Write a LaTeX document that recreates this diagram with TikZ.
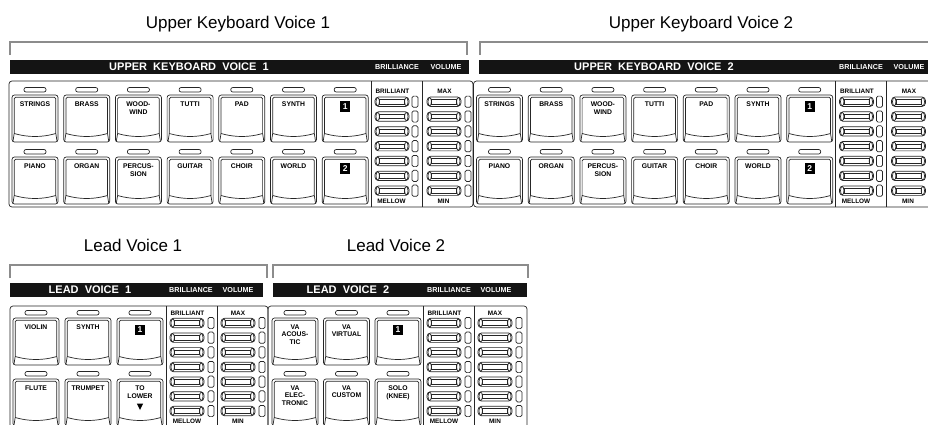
\documentclass[tikz,border=0pt]{standalone}
\usepackage{fontspec}
\setmainfont{Liberation Sans}
\begin{document}
\begin{tikzpicture}[x=1pt,y=-1pt,
  ln/.style={line width=0.7pt, draw=black!85},
  bracketline/.style={draw=black!45, line width=2pt},
  blackbar/.style={fill=black!92, draw=none},
  bartitle/.style={text=white, font=\bfseries\fontsize{11}{11}\selectfont, inner sep=0},
  barsmall/.style={text=white, font=\bfseries\fontsize{7.2}{7.2}\selectfont, inner sep=0},
  ttl/.style={font=\fontsize{17}{17}\selectfont, inner sep=0, anchor=base},
  blabel/.style={font=\bfseries\fontsize{6.8}{7.8}\selectfont, align=center, inner sep=0, anchor=north},
  slabel/.style={font=\bfseries\fontsize{6.4}{6.4}\selectfont, inner sep=0},
  badge/.style={fill=black, text=white, font=\bfseries\fontsize{8.5}{8.5}\selectfont, minimum width=10pt, minimum height=10.5pt, inner sep=0},
  btnshape/.pic={
    \draw[ln, rounded corners=2.5] (0,0) rectangle (46,47);
    \draw[ln, rounded corners=1.5] (2.2,38.5) -- (2.2,2.2) -- (43.8,2.2) -- (43.8,38.5);
    \draw[ln] (2.2,38.5) .. controls (16,42.5) and (30,42.5) .. (43.8,38.5);
    \draw[ln] (2.2,38.5) -- (1,46);
    \draw[ln] (43.8,38.5) -- (45,46);
    \draw[ln, rounded corners=2] (12,-7.5) rectangle (34,-3);
  },
  sliderpic/.pic={
    \draw[ln, fill=white, rounded corners=3.5] (-17,-4.7) rectangle (17,4.7);
    \draw[ln] (-12.5,-2.2) rectangle (12.5,2.2);
    \draw[ln] (-14.3,0) ellipse (1.7 and 4.2);
    \draw[ln] (14.3,0) ellipse (1.7 and 4.2);
  }
]
\useasboundingbox (0,0) rectangle (928,424);
\clip (0,0) rectangle (928,424);
\fill[white] (0,0) rectangle (928,424);

% titles
\node[ttl] (t1) at (238,28) {Upper Keyboard Voice 1};
\node[ttl] (t2) at (701,28) {Upper Keyboard Voice 2};
\node[ttl] (t3) at (133,251) {Lead Voice 1};
\node[ttl] (t4) at (396,251) {Lead Voice 2};

% brackets
\draw[bracketline] (10,55) -- (10,42) -- (467,42) -- (467,55);
\draw[bracketline] (480,55) -- (480,42) -- (940,42);
\draw[bracketline] (10,278) -- (10,265) -- (267,265) -- (267,278);
\draw[bracketline] (273,278) -- (273,265) -- (528,265) -- (528,278);

% black bars
\fill[blackbar] (10,60) rectangle (469,74);
\fill[blackbar] (479,60) rectangle (940,74);
\fill[blackbar] (10,283) rectangle (263,297);
\fill[blackbar] (273,283) rectangle (527,297);
\node[bartitle] (h1) at (189,67) {UPPER\ \ KEYBOARD\ \ VOICE\ \ 1};
\node[bartitle] (h2) at (654,67) {UPPER\ \ KEYBOARD\ \ VOICE\ \ 2};
\node[bartitle] (h3) at (90,290) {LEAD\ \ VOICE\ \ 1};
\node[bartitle] (h4) at (348,290) {LEAD\ \ VOICE\ \ 2};
\node[barsmall] (b1) at (397,67) {BRILLIANCE};
\node[barsmall] (v1) at (446,67) {VOLUME};
\node[barsmall] (b2) at (861,67) {BRILLIANCE};
\node[barsmall] (v2) at (909,67) {VOLUME};
\node[barsmall] (b3) at (191,290) {BRILLIANCE};
\node[barsmall] (v3) at (238,290) {VOLUME};
\node[barsmall] (b4) at (449,290) {BRILLIANCE};
\node[barsmall] (v4) at (496,290) {VOLUME};

% upper panels
\foreach \px/\pn in {0/1,464.5/2} {
  \draw[ln, rounded corners=3] ({9+\px},81) rectangle ({473+\px},207);
  \draw[ln] ({371+\px},81) -- ({371+\px},207);
  \draw[ln] ({422+\px},81) -- ({422+\px},207);
  \foreach \lab [count=\i from 0] in {STRINGS,BRASS,{WOOD-\\WIND},TUTTI,PAD,SYNTH} {
    \pic at ({12+\px+51.7*\i},95) {btnshape};
    \node[blabel] (u\pn a\i) at ({35+\px+51.7*\i},101.3) {\lab};
  }
  \foreach \lab [count=\i from 0] in {PIANO,ORGAN,{PERCUS-\\SION},GUITAR,CHOIR,WORLD} {
    \pic at ({12+\px+51.7*\i},157) {btnshape};
    \node[blabel] (u\pn b\i) at ({35+\px+51.7*\i},163.3) {\lab};
  }
  \pic at ({322.2+\px},95) {btnshape};
  \node[badge] (u\pn one) at ({345.2+\px},106.5) {1};
  \pic at ({322.2+\px},157) {btnshape};
  \node[badge] (u\pn two) at ({345.2+\px},168.5) {2};
  \foreach \k in {0,...,6} {
    \pic at ({392+\px},{101.7+14.83*\k}) {sliderpic};
    \draw[ln, rounded corners=1.5] ({412+\px},{96.1+14.83*\k}) rectangle ++(6,11.2);
    \pic at ({444+\px},{101.7+14.83*\k}) {sliderpic};
    \draw[ln, rounded corners=1.5] ({465+\px},{96.1+14.83*\k}) rectangle ++(6,11.2);
  }
  \node[slabel] (u\pn br) at ({392.5+\px},91.5) {BRILLIANT};
  \node[slabel] (u\pn me) at ({391.5+\px},201) {MELLOW};
  \node[slabel] (u\pn mx) at ({444.5+\px},91.5) {MAX};
  \node[slabel] (u\pn mn) at ({443.5+\px},201) {MIN};
}

% lead panels
\draw[ln, rounded corners=3] (10,306) rectangle (268,440);
\draw[ln, rounded corners=3] (268,306) rectangle (527,440);
\foreach \px/\pn in {0/1,257/2} {
  \draw[ln] ({166+\px},306) -- ({166+\px},440);
  \draw[ln] ({217+\px},306) -- ({217+\px},440);
  \foreach \k in {0,...,6} {
    \pic at ({187+\px},{323+14.67*\k}) {sliderpic};
    \draw[ln, rounded corners=1.5] ({208+\px},{317.4+14.67*\k}) rectangle ++(6,11.2);
    \pic at ({238+\px},{323+14.67*\k}) {sliderpic};
    \draw[ln, rounded corners=1.5] ({259+\px},{317.4+14.67*\k}) rectangle ++(6,11.2);
  }
  \node[slabel] (l\pn br) at ({187.5+\px},313) {BRILLIANT};
  \node[slabel] (l\pn me) at ({187+\px},421.2) {MELLOW};
  \node[slabel] (l\pn mx) at ({238+\px},313) {MAX};
  \node[slabel] (l\pn mn) at ({238+\px},421.2) {MIN};
}
% lead 1 buttons
\foreach \lab [count=\i from 0] in {VIOLIN,SYNTH} {
  \pic at ({13+52*\i},318) {btnshape};
  \node[blabel] (la\i) at ({36+52*\i},324.3) {\lab};
}
\pic at (117,318) {btnshape};
\node[badge] (laone) at (140,330) {1};
\foreach \lab [count=\i from 0] in {FLUTE,TRUMPET,{TO\\LOWER}} {
  \pic at ({13+52*\i},379) {btnshape};
  \node[blabel] (lb\i) at ({36+52*\i},385.3) {\lab};
}
\fill (136.8,403.5) -- (143.2,403.5) -- (140,410) -- cycle;
% lead 2 buttons
\foreach \lab [count=\i from 0] in {{VA\\ACOUS-\\TIC},{VA\\VIRTUAL}} {
  \pic at ({272+51.5*\i},318) {btnshape};
  \node[blabel] (lc\i) at ({295+51.5*\i},324.3) {\lab};
}
\pic at (375,318) {btnshape};
\node[badge] (lcone) at (398,330) {1};
\foreach \lab [count=\i from 0] in {{VA\\ELEC-\\TRONIC},{VA\\CUSTOM},{SOLO\\(KNEE)}} {
  \pic at ({272+51.5*\i},379) {btnshape};
  \node[blabel] (ld\i) at ({295+51.5*\i},385.3) {\lab};
}
\end{tikzpicture}
\end{document}
